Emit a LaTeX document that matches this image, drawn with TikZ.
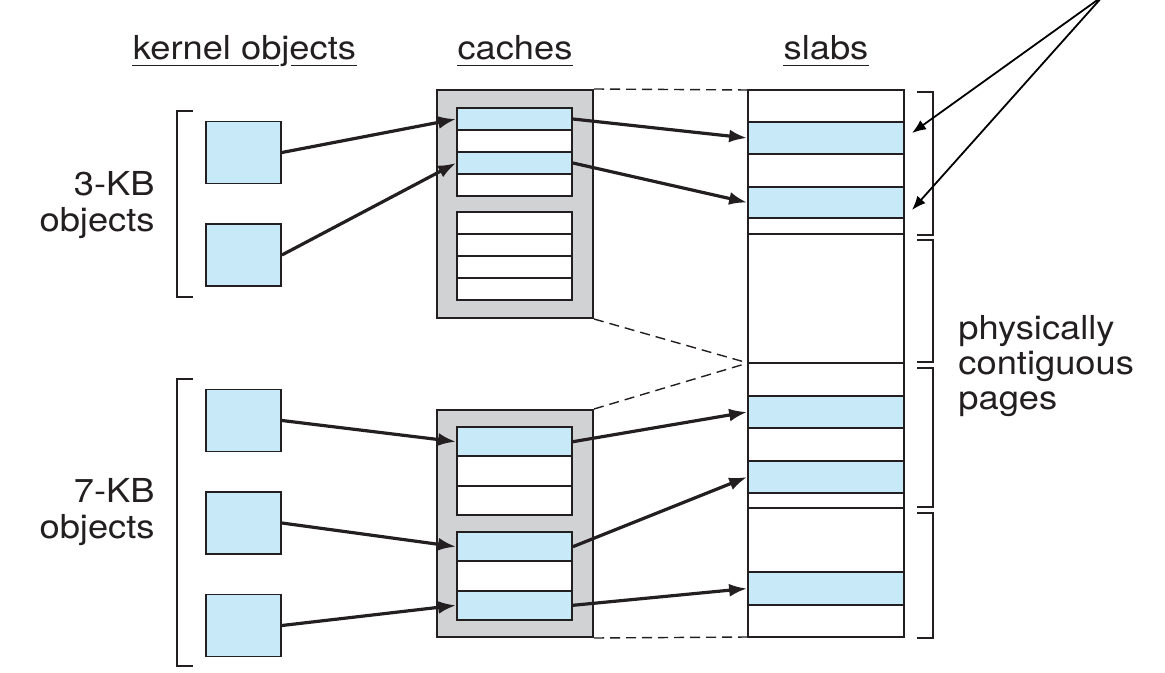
\documentclass[tikz,border=0pt]{standalone}
\usepackage{fontspec}
\setmainfont{TeX Gyre Heros}[FakeStretch=1.1]
\usetikzlibrary{arrows.meta}
\definecolor{objblue}{RGB}{199,233,248}
\definecolor{cachegray}{RGB}{209,210,212}
\definecolor{linecol}{RGB}{35,31,32}

\tikzset{
  txt/.style={inner sep=0pt, text=linecol, font=\fontsize{16.5}{17.6}\selectfont},
  objbox/.style={draw=linecol, fill=objblue, line width=0.9pt, inner sep=0pt,
    minimum width=37.5pt, minimum height=31pt},
  cachebox/.style={draw=linecol, fill=cachegray, line width=1pt, inner sep=0pt,
    minimum width=78pt},
  crow/.style={draw=linecol, line width=0.9pt, inner sep=0pt, minimum width=57.5pt},
  srow/.style={draw=linecol, line width=0.85pt, inner sep=0pt, minimum width=78pt},
  objarrow/.style={draw=linecol, line width=1.6pt, -{Latex[length=9pt,width=6.5pt]}},
  ptrarrow/.style={draw=black, line width=0.9pt, -{Latex[length=7pt,width=5.5pt]}},
  dashline/.style={draw=linecol, line width=0.7pt, dash pattern=on 5pt off 3pt},
  bracket/.style={draw=linecol, line width=0.9pt}
}

\begin{document}
\begin{tikzpicture}[x=0.5pt,y=-0.5pt]
    \useasboundingbox (0,0) rectangle (1165,673);

    % headings
    \node[txt, anchor=base] (hdkernel) at (244.5,60) {kernel objects};
    \node[txt, anchor=base] (hdcaches) at (515,60) {caches};
    \node[txt, anchor=base] (hdslabs) at (826,60) {slabs};
    \draw[linecol, line width=0.9pt] ([yshift=-2.75pt]hdkernel.base west) -- ++(146,0);
    \draw[linecol, line width=0.9pt] ([yshift=-2.75pt]hdkernel.base east) -- ++(-66,0);
    \draw[linecol, line width=0.9pt] ([yshift=-2.75pt]hdcaches.base west) -- ([yshift=-2.75pt]hdcaches.base east);
    \draw[linecol, line width=0.9pt] ([yshift=-2.75pt]hdslabs.base west) -- ([yshift=-2.75pt]hdslabs.base east);

    % side labels
    \node[txt, align=right, anchor=east] (kb3) at (155,205) {3-KB\\objects};
    \node[txt, align=right, anchor=east] (kb7) at (155,512) {7-KB\\objects};
    \node[txt, align=left, anchor=west] (pages) at (958,366) {physically\\contiguous\\pages};

    % left brackets
    \draw[bracket] (193,111) -- (177,111) -- (177,297) -- (193,297);
    \draw[bracket] (193,379) -- (177,379) -- (177,666) -- (193,666);

    % right brackets
    \draw[bracket] (917,92) -- (933,92) -- (933,235) -- (917,235);
    \draw[bracket] (917,240) -- (933,240) -- (933,362) -- (917,362);
    \draw[bracket] (917,368) -- (933,368) -- (933,507) -- (917,507);
    \draw[bracket] (917,513) -- (933,513) -- (933,638) -- (917,638);

    % kernel objects
    \node[objbox] (obj1) at (243.5,152.5) {};
    \node[objbox] (obj2) at (243.5,255) {};
    \node[objbox] (obj3) at (243.5,420.5) {};
    \node[objbox] (obj4) at (243.5,523) {};
    \node[objbox] (obj5) at (243.5,625.5) {};

    % caches
    \node[cachebox, minimum height=114pt] (cacheA) at (515,204) {};
    \node[cachebox, minimum height=113.5pt] (cacheB) at (515,523.5) {};
    \foreach \n/\y/\c in {ca1/119/objblue, ca2/141/white, ca3/163/objblue, ca4/185/white,
                          ca5/223/white, ca6/245/white, ca7/267/white, ca8/289/white}
        \node[crow, fill=\c, minimum height=11pt] (\n) at (514.5,\y) {};
    \foreach \n/\y/\c in {cb1/441.7/objblue, cb2/471/white, cb3/500.3/white,
                          cb4/546.7/objblue, cb5/576/white, cb6/605.3/objblue}
        \node[crow, fill=\c, minimum height=14.67pt] (\n) at (514.5,\y) {};

    % dashed links
    \draw[dashline] (cacheA.north east) -- (748,90) coordinate (slabtop);
    \draw[dashline] (cacheA.south east) -- (748,363) coordinate (slabmid);
    \draw[dashline] (cacheB.north east) -- (slabmid);
    \draw[dashline] (cacheB.south east) -- (748,637) coordinate (slabbot);

    % slabs
    \foreach \n/\t/\b/\c in {s1/90/122/white, s2/122/154/objblue, s3/154/187/white,
                             s4/187/218/objblue, s5/218/234/white, s6/234/363/white,
                             s7/363/396/white, s8/396/428/objblue, s9/428/461/white,
                             s10/461/493/objblue, s11/493/508/white, s12/508/572/white,
                             s13/572/605/objblue, s14/605/637/white}
        \node[srow, fill=\c, minimum height={(\b-\t)*0.5pt}] (\n) at (826,{(\t+\b)/2}) {};

    % objects to caches
    \draw[objarrow] (obj1.east) -- (ca1.west);
    \draw[objarrow] (obj2.east) -- (ca3.west);
    \draw[objarrow] (obj3.east) -- (cb1.west);
    \draw[objarrow] (obj4.east) -- (cb4.west);
    \draw[objarrow] (obj5.east) -- (cb6.west);

    % caches to slabs
    \draw[objarrow] (ca1.east) -- (s2.west);
    \draw[objarrow] (ca3.east) -- (s4.west);
    \draw[objarrow] (cb1.east) -- (s8.west);
    \draw[objarrow] (cb4.east) -- (s10.west);
    \draw[objarrow] (cb6.east) -- (s13.west);

    % pointers from the top
    \coordinate (ptrsrc) at (1103,-4);
    \coordinate (tipA) at (912,133);
    \coordinate (tipB) at (912,210);
    \draw[ptrarrow] (ptrsrc) -- (tipA);
    \draw[ptrarrow] (ptrsrc) -- (tipB);
\end{tikzpicture}
\end{document}
